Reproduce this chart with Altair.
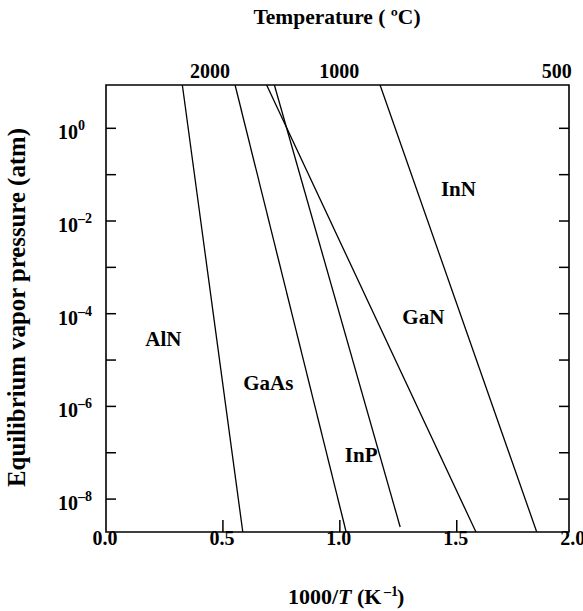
import altair as alt
import pandas as pd

# ---- data ----
materials = ["AlN", "GaAs", "GaN", "InP", "InN"]
x_start = [0.3265, 0.552, 0.687, 0.720, 1.172]
p_start = [8.6, 8.6, 8.6, 8.6, 8.6]
x_end = [0.585, 1.027, 1.582, 1.258, 1.842]
p_end = [1.95e-9, 1.95e-9, 1.95e-9, 2.5e-9, 1.95e-9]

label_x = [0.245, 0.694, 1.357, 1.091, 1.507]
label_p = [2.7e-5, 3.0e-6, 8.1e-5, 8.5e-8, 4.7e-2]

y_ticks = [1, 1e-1, 1e-2, 1e-3, 1e-4, 1e-5, 1e-6, 1e-7, 1e-8]
y_label_vals = [1, 1e-2, 1e-4, 1e-6, 1e-8]
y_label_exp = ["0", "\u20132", "\u20134", "\u20136", "\u20138"]

x_tick_vals = [0.5, 1.0, 1.5]
x_label_vals = [0.0, 0.5, 1.0, 1.5, 2.0]
x_label_text = ["0.0", "0.5", "1.0", "1.5", "2.0"]

temp_pos = [0.445, 0.997, 1.928]
temp_text = ["2000", "1000", "500"]

# ---- tables ----
rows = []
for m, xs0, ps0, xe, pe in zip(materials, x_start, p_start, x_end, p_end):
    rows.append({"material": m, "step": 0, "x": xs0, "p": ps0})
    rows.append({"material": m, "step": 1, "x": xe, "p": pe})
line_df = pd.DataFrame(rows)
lab_df = pd.DataFrame({"material": materials, "x": label_x, "p": label_p})
ytick_df = pd.DataFrame({"p": y_ticks})
ylab_df = pd.DataFrame({"p": y_label_vals, "exp": y_label_exp})
xtick_df = pd.DataFrame({"x": x_tick_vals})
xlab_df = pd.DataFrame({"x": x_label_vals, "t": x_label_text})
temp_df = pd.DataFrame({"x": temp_pos, "t": temp_text})

W, H = 463, 447
FONT = "Liberation Serif"
xs = alt.Scale(domain=[0, 1.98], nice=False, zero=False)
ys = alt.Scale(type="log", domain=[1.95e-9, 8.6], nice=False)
X = lambda f="x": alt.X(f + ":Q", scale=xs, axis=None)
Y = lambda f="p": alt.Y(f + ":Q", scale=ys, axis=None)

one = pd.DataFrame({"a": [0]})


def txt(text, x, y, size=20, align="center", baseline="alphabetic", angle=0, style="normal"):
    kw = dict(text=text, font=FONT, fontWeight="bold", fontSize=size, align=align,
              baseline=baseline, color="black", fontStyle=style)
    if angle:
        kw["angle"] = angle
    return alt.Chart(one).mark_text(**kw).encode(x=alt.value(x), y=alt.value(y))


lines = alt.Chart(line_df).mark_line(color="black", strokeWidth=1.3).encode(
    x=X(), y=Y(), detail="material:N", order="step:O")

labels = alt.Chart(lab_df).mark_text(font=FONT, fontWeight="bold", fontSize=21,
                                     color="black", baseline="middle").encode(
    x=X(), y=Y(), text="material:N")

left_ticks = alt.Chart(ytick_df).mark_rule(color="black", strokeWidth=1.5).encode(
    y=Y(), x=alt.value(0), x2=alt.value(10))
right_ticks = alt.Chart(ytick_df).mark_rule(color="black", strokeWidth=1.5).encode(
    y=Y(), x=alt.value(W - 10), x2=alt.value(W))
bottom_ticks = alt.Chart(xtick_df).mark_rule(color="black", strokeWidth=1.5).encode(
    x=X(), y=alt.value(H - 12), y2=alt.value(H))

ylab_base = alt.Chart(ylab_df).mark_text(font=FONT, fontWeight="bold", fontSize=20, align="left",
                                         baseline="alphabetic", dy=11, color="black").encode(
    y=Y(), x=alt.value(-48), text=alt.value("10"))
ylab_exp = alt.Chart(ylab_df).mark_text(font=FONT, fontWeight="bold", fontSize=14, align="left",
                                        baseline="alphabetic", dy=2, color="black").encode(
    y=Y(), x=alt.value(-28), text="exp:N")

xlabs = alt.Chart(xlab_df).mark_text(font=FONT, fontWeight="bold", fontSize=20, align="center",
                                     baseline="alphabetic", dx=-1, color="black").encode(
    x=X(), y=alt.value(H + 13), text="t:N")

tlabs = alt.Chart(temp_df).mark_text(font=FONT, fontWeight="bold", fontSize=20, align="center",
                                     baseline="alphabetic", color="black").encode(
    x=X(), y=alt.value(-7), text="t:N")

top_title = txt("Temperature ( \u00baC)", 231, -61, size=21.5)
y_title = txt("Equilibrium vapor pressure (atm)", -81, 222.5, size=24.8, angle=270)

bx = 232
by = 519
b1 = txt("1000/", bx, by, size=22, align="right")
b2 = txt("T", bx, by, size=22, align="left", style="italic")
b3 = txt("(K", 251, by, size=22, align="left")
b4 = txt("\u20131", 278, by - 8, size=14, align="left")
b5 = txt(")", 291, by, size=22, align="left")

chart = alt.layer(
    lines, labels, left_ticks, right_ticks, bottom_ticks,
    ylab_base, ylab_exp, xlabs, tlabs, top_title, y_title, b1, b2, b3, b4, b5
).properties(
    width=W, height=H,
    padding={"left": 106, "top": 85, "right": 14, "bottom": 79},
    autosize=alt.AutoSizeParams(type="none"),
).configure_view(stroke="black", strokeWidth=1.6)

chart.save("out.html", embed_options={"renderer": "svg", "actions": False})
